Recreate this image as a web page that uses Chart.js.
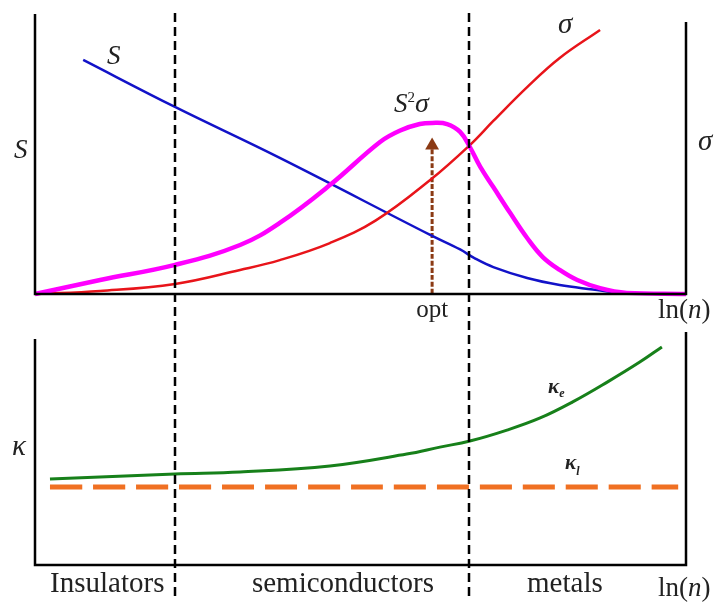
<!DOCTYPE html>
<html>
<head>
<meta charset="utf-8">
<script src="https://cdn.jsdelivr.net/npm/chart.js@4/dist/chart.umd.min.js"></script>
<style>
  body { margin: 0; background: #fff; }
  #wrap { position: relative; width: 716px; height: 605px; }
  canvas { position: absolute; left: 0; }
</style>
</head>
<body>
<div id="wrap">
  <canvas id="topChart" width="716" height="330" style="top:0"></canvas>
  <canvas id="bottomChart" width="716" height="275" style="top:330px"></canvas>
</div>
<script>
// x = ln(n) on a 0..100 scale, values in arbitrary units (0..100)
const seebeckX = [7.4, 21.5, 37.6, 60.7, 65.3, 67.5, 70.4, 75.6, 80.6, 85.7, 89.9, 100];
const seebeckY = [83.6, 66.8, 48.6, 21.1, 15.9, 12.8, 9.6, 5.7, 3.2, 1.6, 0.4, 0];

const sigmaX = [0, 10.0, 21.5, 31.5, 37.6, 45.3, 52.3, 60.7, 66.8, 70.4, 75.6, 80.6, 86.8];
const sigmaY = [0, 1.1, 3.6, 8.6, 12.1, 18.2, 26.2, 40.7, 53.2, 61.8, 73.9, 84.3, 94.3];

const powerX = [0, 10.0, 21.5, 31.5, 37.6, 45.3, 53.0, 56.1, 59.1, 61.0, 63.3, 65.3, 66.8, 68.4, 70.4, 73.0, 75.6, 78.0, 80.6, 83.3, 86.8, 90.9, 100];
const powerY = [0, 5.0, 10.4, 17.5, 25.4, 38.9, 54.3, 58.4, 60.7, 61.1, 60.7, 57.9, 52.5, 45.4, 38.2, 28.9, 20.0, 13.2, 8.6, 5.0, 2.1, 0.4, 0];

const kappaEX = [2.3, 21.5, 31.5, 45.3, 57.1, 62.2, 66.8, 72.5, 77.6, 82.6, 87.9, 92.9, 96.3];
const kappaEY = [36.9, 39.1, 39.9, 42.5, 47.6, 50.6, 53.2, 57.9, 63.1, 70.0, 78.5, 87.1, 93.6];

const kappaLX = [2.3, 98.8];
const kappaLY = [33.5, 33.5];

const optX = 61.0;              // optimum carrier concentration
const optArrowY = [0, 53];
const regionBounds = [21.5, 66.7];
const regionNames = ['Insulators', 'semiconductors', 'metals'];

const pts = (xs, ys) => xs.map((v, i) => ({ x: v, y: ys[i] }));

const SERIF = '"Liberation Serif", "DejaVu Serif", serif';
const DASH = [9, 5];

// draws runs of text with different fonts one after another
function drawRuns(ctx, runs, px, py) {
  let cx = px;
  runs.forEach(([s, font, dy]) => {
    ctx.font = font;
    ctx.fillText(s, cx, py + (dy || 0));
    cx += ctx.measureText(s).width;
  });
}

function lnN(ctx, px, py) {
  drawRuns(ctx, [
    ['ln(', '27px ' + SERIF],
    ['n', 'italic 27px ' + SERIF],
    [')', '27px ' + SERIF]
  ], px, py);
}

function baseOptions(pad) {
  return {
    responsive: false,
    animation: false,
    layout: { padding: pad },
    plugins: { legend: { display: false }, tooltip: { enabled: false } },
    scales: {
      x: { type: 'linear', min: 0, max: 100, display: false },
      y: { min: 0, max: 100, display: false }
    },
    elements: { point: { radius: 0 }, line: { tension: 0.4, capBezierPoints: true } }
  };
}

const topDecor = {
  id: 'topDecor',
  afterDatasetsDraw(chart) {
    const { ctx, chartArea: a, scales: { x } } = chart;
    ctx.save();
    ctx.strokeStyle = '#000';
    ctx.lineWidth = 2.5;
    ctx.beginPath();
    ctx.moveTo(a.left, a.top);
    ctx.lineTo(a.left, a.bottom);
    ctx.lineTo(a.right, a.bottom);
    ctx.lineTo(a.right, a.top + 8);
    ctx.stroke();

    ctx.setLineDash(DASH);
    regionBounds.forEach(v => {
      const px = Math.round(x.getPixelForValue(v));
      ctx.beginPath();
      ctx.moveTo(px, a.top - 1);
      ctx.lineTo(px, chart.height);
      ctx.stroke();
    });
    ctx.setLineDash([]);

    ctx.fillStyle = '#222';
    ctx.textBaseline = 'alphabetic';
    ctx.textAlign = 'left';
    const it = 'italic 27px ' + SERIF;
    drawRuns(ctx, [['S', it]], 107, 64);
    drawRuns(ctx, [['S', it]], 14, 158);
    drawRuns(ctx, [['S', 'italic 27px ' + SERIF], ['2', '15px ' + SERIF, -10], ['\u03c3', 'italic 28px ' + SERIF]], 394, 112);
    drawRuns(ctx, [['\u03c3', 'italic 29px ' + SERIF]], 558, 33);
    drawRuns(ctx, [['\u03c3', 'italic 29px ' + SERIF]], 698, 150);

    ctx.textAlign = 'center';
    ctx.font = '25px ' + SERIF;
    ctx.fillText('opt', x.getPixelForValue(optX), 317);
    ctx.textAlign = 'left';
    lnN(ctx, 658, 318);
    ctx.restore();
  }
};

const bottomDecor = {
  id: 'bottomDecor',
  afterDatasetsDraw(chart) {
    const { ctx, chartArea: a, scales: { x } } = chart;
    ctx.save();
    ctx.strokeStyle = '#000';
    ctx.lineWidth = 2.5;
    ctx.beginPath();
    ctx.moveTo(a.left, a.top + 7);
    ctx.lineTo(a.left, a.bottom);
    ctx.lineTo(a.right, a.bottom);
    ctx.lineTo(a.right, a.top);
    ctx.stroke();

    // continue the dash pattern from the upper panel
    ctx.setLineDash(DASH);
    ctx.lineDashOffset = (330 - 13) % (DASH[0] + DASH[1]);
    regionBounds.forEach(v => {
      const px = Math.round(x.getPixelForValue(v));
      ctx.beginPath();
      ctx.moveTo(px, 0);
      ctx.lineTo(px, a.bottom + 32);
      ctx.stroke();
    });
    ctx.setLineDash([]);

    ctx.fillStyle = '#222';
    ctx.textAlign = 'left';
    drawRuns(ctx, [['\u03ba', 'italic 29px ' + SERIF]], 12, 455 - 330);
    drawRuns(ctx, [['\u03ba', 'italic bold 21px ' + SERIF], ['e', 'italic bold 12px ' + SERIF, 4]], 548, 393 - 330);
    drawRuns(ctx, [['\u03ba', 'italic bold 21px ' + SERIF], ['l', 'italic bold 12px ' + SERIF, 6]], 565, 469 - 330);

    ctx.textAlign = 'center';
    ctx.font = '29px ' + SERIF;
    const labelX = [11.1, 47.3, 81.4];
    regionNames.forEach((n, i) => ctx.fillText(n, x.getPixelForValue(labelX[i]), a.bottom + 27));
    ctx.textAlign = 'left';
    lnN(ctx, 658, 596 - 330);
    ctx.restore();
  }
};

new Chart(document.getElementById('topChart'), {
  type: 'line',
  data: {
    datasets: [
      {
        label: 'S\u00b2\u03c3', data: pts(powerX, powerY),
        borderColor: '#ff00ff', borderWidth: 4.5, clip: false
      },
      {
        label: '\u03c3', data: pts(sigmaX, sigmaY),
        borderColor: '#e8141a', borderWidth: 2.5, clip: false
      },
      {
        label: 'S', data: pts(seebeckX, seebeckY),
        borderColor: '#1212c8', borderWidth: 2.5, clip: false
      },
      {
        label: 'opt', data: optArrowY.map(v => ({ x: optX, y: v })),
        borderColor: '#8b3a14', backgroundColor: '#8b3a14', borderWidth: 3, borderDash: [5, 2],
        pointStyle: 'triangle', pointRadius: [0, 8], pointBorderWidth: 0, clip: false
      }
    ]
  },
  options: baseOptions({ left: 35, right: 30, top: 14, bottom: 36 }),
  plugins: [topDecor]
});

new Chart(document.getElementById('bottomChart'), {
  type: 'line',
  data: {
    datasets: [
      {
        label: '\u03ba_e', data: pts(kappaEX, kappaEY),
        borderColor: '#17801a', borderWidth: 3, clip: false
      },
      {
        label: '\u03ba_l', data: pts(kappaLX, kappaLY),
        borderColor: '#f07022', borderWidth: 5, borderDash: [32, 11], clip: false
      }
    ]
  },
  options: baseOptions({ left: 35, right: 30, top: 2, bottom: 40 }),
  plugins: [bottomDecor]
});
</script>
</body>
</html>
